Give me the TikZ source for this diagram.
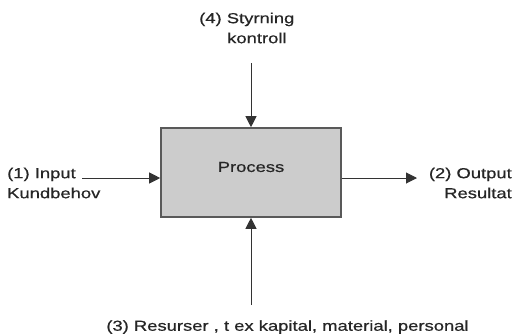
\documentclass[tikz,border=0pt]{standalone}
\usepackage{fontspec}
\setmainfont{Liberation Sans}[FakeStretch=1.27,FakeBold=0.6]
\usetikzlibrary{arrows.meta}
\begin{document}
\begin{tikzpicture}[x=1pt,y=-1pt,
  lbl/.style={font=\fontsize{14.5}{20}\selectfont, text=black!85, inner sep=0pt},
  flow/.style={draw=black!80, line width=1pt, -{Triangle[length=11pt,width=11pt]}},
  procbox/.style={draw=black!65, line width=1.6pt, fill=black!20,
    minimum width=180pt, minimum height=89pt, inner sep=0pt}]
\useasboundingbox (0,0) rectangle (514,335);

% central process box
\node[procbox] (proc) at (251,172.5) {};
\node[lbl] (ptext) at (251,167) {Process};

% labels
\node[lbl, anchor=west, align=left] (in1) at (7,183) {(1) Input\\Kundbehov};
\node[lbl, anchor=east, align=right] (out2) at (512,183) {(2) Output\\Resultat};
\node[lbl, anchor=west, align=left] (ctl4) at (199,28) {(4) Styrning\\\hspace*{28pt}kontroll};
\node[lbl] (res3) at (287.5,327) {(3) Resurser , t ex kapital, material, personal};

% free ends of the connectors
\coordinate (inStart) at (82,178);
\coordinate (outEnd) at (417,178);
\coordinate (ctlStart) at (251,63);
\coordinate (resStart) at (251,305);

% connectors
\draw[flow] (inStart) -- (proc.west |- inStart);
\draw[flow] (proc.east |- outEnd) -- (outEnd);
\draw[flow] (ctlStart) -- (proc.north);
\draw[flow] (resStart) -- (proc.south);
\end{tikzpicture}
\end{document}
